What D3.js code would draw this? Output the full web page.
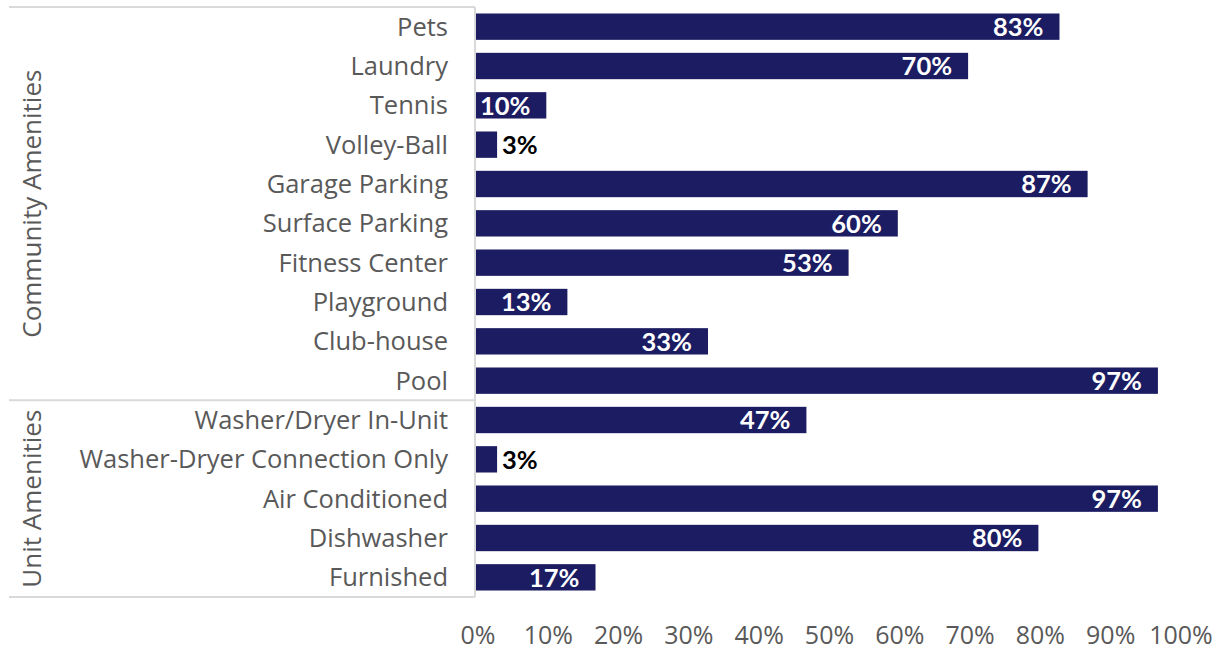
<!DOCTYPE html>
<html>
<head>
<meta charset="utf-8">
<script src="https://cdn.jsdelivr.net/npm/d3@7"></script>
<style>
  html, body { margin: 0; padding: 0; background: #fff; }
  svg { display: block; }
  text { font-family: "Open Sans", Lato, sans-serif; }
  text.value { font-family: Lato, "Open Sans", sans-serif; }
</style>
</head>
<body>
<svg id="chart" width="1223" height="650"></svg>
<script>
// Amenity categories, top to bottom
const categories = [
  "Pets", "Laundry", "Tennis", "Volley-Ball", "Garage Parking",
  "Surface Parking", "Fitness Center", "Playground", "Club-house", "Pool",
  "Washer/Dryer In-Unit", "Washer-Dryer Connection Only", "Air Conditioned",
  "Dishwasher", "Furnished"
];
// Share of properties offering each amenity (%)
const shares = [83, 70, 10, 3, 87, 60, 53, 13, 33, 97, 47, 3, 97, 80, 17];
// Group of each amenity
const groups = [
  "Community Amenities", "Community Amenities", "Community Amenities",
  "Community Amenities", "Community Amenities", "Community Amenities",
  "Community Amenities", "Community Amenities", "Community Amenities",
  "Community Amenities", "Unit Amenities", "Unit Amenities",
  "Unit Amenities", "Unit Amenities", "Unit Amenities"
];
const groupNames = ["Community Amenities", "Unit Amenities"];
const xTicks = [0, 10, 20, 30, 40, 50, 60, 70, 80, 90, 100];

const svg = d3.select("#chart");
const plotLeft = 476, plotRight = 1179, plotTop = 7, plotBottom = 597, frameLeft = 9;

const x = d3.scaleLinear().domain([0, 100]).range([plotLeft, plotRight]);
const y = d3.scaleBand().domain(categories).range([plotTop, plotBottom]).paddingInner(0.33).paddingOuter(0.165);

const gridColor = "#d9d9d9";
const textGray = "#595959";
const barColor = "#1b1c62";

// Bars
svg.append("g").selectAll("rect")
  .data(categories)
  .join("rect")
  .attr("x", x(0))
  .attr("y", d => y(d))
  .attr("width", (d, i) => x(shares[i]) - x(0))
  .attr("height", y.bandwidth())
  .attr("fill", barColor);

// Category labels
svg.append("g").selectAll("text")
  .data(categories)
  .join("text")
  .attr("x", plotLeft - 28)
  .attr("y", d => y(d) + y.bandwidth() / 2)
  .attr("dy", "0.35em")
  .attr("text-anchor", "end")
  .attr("fill", textGray)
  .style("font-size", "25.5px")
  .text(d => d);

// Value labels: inside the bar end, or just outside when the bar is too short
const labels = svg.append("g").selectAll("text")
  .data(categories)
  .join("text")
  .attr("class", "value")
  .attr("y", d => y(d) + y.bandwidth() / 2)
  .attr("dy", "0.36em")
  .style("font-size", "25.5px")
  .style("font-weight", "700")
  .text((d, i) => shares[i] + "%");

labels.each(function(d, i) {
  const t = d3.select(this);
  const w = this.getComputedTextLength();
  const end = x(shares[i]);
  if (end - x(0) < w + 6) {
    t.attr("x", end + 5).attr("text-anchor", "start").attr("fill", "#000");
  } else {
    const r = Math.max(end - 16, x(0) + 4 + w);
    t.attr("x", r).attr("text-anchor", "end").attr("fill", "#fff");
  }
});

// X axis tick labels
svg.append("g").selectAll("text")
  .data(xTicks)
  .join("text")
  .attr("x", d => x(d) + 2)
  .attr("y", 644)
  .attr("text-anchor", "middle")
  .attr("fill", textGray)
  .style("font-size", "25px")
  .text(d => d + "%");

// Frame lines: vertical axis, group separators
const lines = svg.append("g").attr("stroke", gridColor).attr("stroke-width", 2).attr("fill", "none");
lines.append("line").attr("x1", plotLeft - 1).attr("x2", plotLeft - 1).attr("y1", plotTop).attr("y2", plotBottom);

const groupBounds = groupNames.map(g => {
  const idx = categories.map((c, i) => i).filter(i => groups[i] === g);
  const first = categories[idx[0]], last = categories[idx[idx.length - 1]];
  const gap = y.step() - y.bandwidth();
  const y0 = idx[0] === 0 ? plotTop : y(first) - gap / 2;
  const y1 = idx[idx.length - 1] === categories.length - 1 ? plotBottom : y(last) + y.bandwidth() + gap / 2;
  return { name: g, y0, y1 };
});

const edges = Array.from(new Set(groupBounds.flatMap(b => [b.y0, b.y1])));
lines.selectAll("line.sep")
  .data(edges)
  .join("line")
  .attr("class", "sep")
  .attr("x1", frameLeft).attr("x2", plotLeft - 1)
  .attr("y1", d => d).attr("y2", d => d);

// Group labels (rotated)
svg.append("g").selectAll("text")
  .data(groupBounds)
  .join("text")
  .attr("transform", d => `translate(32,${(d.y0 + d.y1) / 2}) rotate(-90)`)
  .attr("dy", "0.35em")
  .attr("text-anchor", "middle")
  .attr("fill", textGray)
  .style("font-size", "26px")
  .text(d => d.name);
</script>
</body>
</html>
